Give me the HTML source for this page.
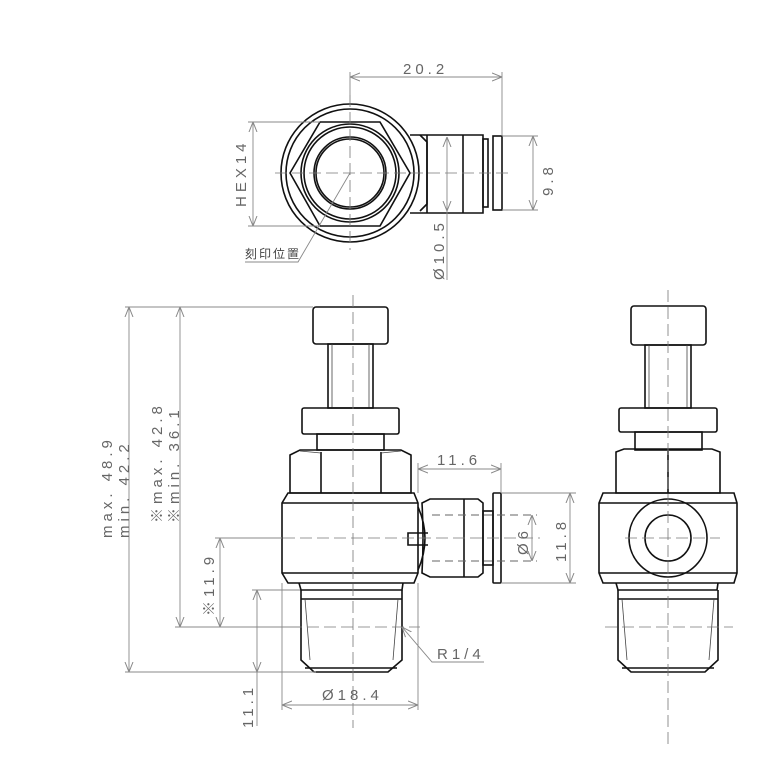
<!DOCTYPE html>
<html><head><meta charset="utf-8"><style>
html,body{margin:0;padding:0;background:#fff}
svg{display:block}
text{font-family:"Liberation Sans","Noto Sans CJK JP",sans-serif;fill:#666;font-size:15px;letter-spacing:4px}
.o{fill:none;stroke:#111;stroke-width:1.6}
.t{fill:none;stroke:#444;stroke-width:0.8}
.d{fill:none;stroke:#888;stroke-width:0.9}
.c{fill:none;stroke:#777;stroke-width:0.8;stroke-dasharray:12 5}
.h{fill:none;stroke:#666;stroke-width:0.9;stroke-dasharray:8 5}
</style></head><body>
<svg width="768" height="768" viewBox="0 0 768 768" xmlns="http://www.w3.org/2000/svg">
<defs>
<marker id="a" viewBox="0 0 10 10" refX="10" refY="5" markerWidth="10" markerHeight="10" orient="auto-start-reverse" markerUnits="userSpaceOnUse"><path d="M0,1 L10,5 L0,9" fill="none" stroke="#888" stroke-width="1"/></marker>
</defs>

<!-- ===== TOP VIEW ===== -->
<circle class="o" cx="350" cy="173" r="69"/>
<circle class="o" cx="350" cy="173" r="64"/>
<polygon class="o" points="290,173 320,122 380,122 410,173 380,226 320,226"/>
<circle class="o" cx="350" cy="173" r="49" stroke-width="2.4"/>
<circle class="o" cx="350" cy="173" r="46"/>
<circle class="o" cx="350" cy="173" r="36"/>
<circle class="o" cx="350" cy="173" r="34"/>
<path class="o" d="M410,135 H483 V213 H410"/>
<path class="o" d="M420,135 L427,142 V204 L420,211"/>
<line class="o" x1="427" y1="135" x2="427" y2="213"/>
<line class="o" x1="463" y1="135" x2="463" y2="213"/>
<rect class="o" x="483" y="139" width="5" height="68"/>
<rect class="o" x="493" y="136" width="9" height="74"/>
<line class="c" x1="275" y1="173" x2="510" y2="173"/>
<line class="c" x1="350" y1="95" x2="350" y2="250"/>
<!-- dims -->
<line class="d" x1="350" y1="72" x2="350" y2="100"/>
<line class="d" x1="502" y1="72" x2="502" y2="136"/>
<line class="d" x1="350" y1="77" x2="502" y2="77" marker-start="url(#a)" marker-end="url(#a)"/>
<text x="403" y="74">20.2</text>
<line class="d" x1="248" y1="122" x2="320" y2="122"/>
<line class="d" x1="248" y1="226" x2="320" y2="226"/>
<line class="d" x1="253" y1="122" x2="253" y2="226" marker-start="url(#a)" marker-end="url(#a)"/>
<text transform="translate(246,207) rotate(-90)">HEX14</text>
<line class="d" x1="502" y1="136" x2="538" y2="136"/>
<line class="d" x1="502" y1="210" x2="538" y2="210"/>
<line class="d" x1="533" y1="136" x2="533" y2="210" marker-start="url(#a)" marker-end="url(#a)"/>
<text transform="translate(553,196) rotate(-90)">9.8</text>
<line class="d" x1="447" y1="137" x2="447" y2="211" marker-start="url(#a)" marker-end="url(#a)"/>
<line class="d" x1="447" y1="211" x2="447" y2="280"/>
<text transform="translate(444,280) rotate(-90)">Ø10.5</text>
<path class="d" d="M245,262 H298 L350,173"/>
<text x="245" y="258" style="font-size:12px;letter-spacing:2px;fill:#444">刻印位置</text>

<!-- ===== SIDE VIEW ===== -->
<rect class="o" x="313" y="307" width="75" height="37" rx="3"/>
<rect class="o" x="328" y="344" width="45" height="64"/>
<line class="t" x1="332" y1="344" x2="332" y2="408"/><line class="t" x1="369" y1="344" x2="369" y2="408"/>
<rect class="o" x="302" y="408" width="97" height="26" rx="2"/>
<rect class="o" x="317" y="434" width="67" height="16"/>
<path class="o" d="M290,455 L300,450 H401 L411,455 V493 H290 Z"/>
<line class="o" x1="321" y1="452" x2="321" y2="493"/><line class="o" x1="381" y1="452" x2="381" y2="493"/>
<line class="t" x1="300" y1="451" x2="321" y2="453"/><line class="t" x1="381" y1="453" x2="401" y2="451"/>
<path class="o" d="M288,493 H414 L418,503 V573 L414,583 H288 L282,573 V503 Z"/>
<line class="o" x1="282" y1="503" x2="418" y2="503"/>
<line class="o" x1="282" y1="573" x2="418" y2="573"/>
<!-- fitting -->
<path class="o" d="M418,507 Q432,538 418,570"/>
<path class="o" d="M430,499 H478 L483,503 V573 L478,577 H430 L422,573 Q424,538 422,503 Z"/>
<line class="o" x1="464" y1="499" x2="464" y2="577"/>
<rect class="o" x="483" y="511" width="10" height="54"/>
<rect class="o" x="493" y="493" width="8" height="90" rx="1"/>
<path class="o" d="M428,533 H408 V545 H428"/>
<line class="h" x1="432" y1="515" x2="537" y2="515"/>
<line class="h" x1="432" y1="561" x2="537" y2="561"/>
<!-- thread -->
<path class="o" d="M299,583 L301,590 H402 L403,583"/>
<path class="o" d="M301,590 V660 L314,672 H388 L402,660 V590"/>
<line class="o" x1="301" y1="599" x2="402" y2="599"/>
<line class="t" x1="305" y1="599" x2="310" y2="660"/><line class="t" x1="398" y1="599" x2="393" y2="660"/>
<line class="o" x1="305" y1="668" x2="397" y2="668"/>
<!-- center lines -->
<line class="c" x1="353" y1="295" x2="353" y2="728"/>
<line class="c" x1="215" y1="538" x2="540" y2="538"/>
<line class="c" x1="290" y1="627" x2="420" y2="627"/>
<!-- dims -->
<line class="d" x1="125" y1="307" x2="313" y2="307"/>
<line class="d" x1="125" y1="672" x2="316" y2="672"/>
<line class="d" x1="129" y1="307" x2="129" y2="672" marker-start="url(#a)" marker-end="url(#a)"/>
<text transform="translate(112,538) rotate(-90)">max. 48.9</text>
<text transform="translate(129,538) rotate(-90)">min. 42.2</text>
<line class="d" x1="175" y1="627" x2="300" y2="627"/>
<line class="d" x1="180" y1="307" x2="180" y2="627" marker-start="url(#a)" marker-end="url(#a)"/>
<text transform="translate(162,523) rotate(-90)">※max. 42.8</text>
<text transform="translate(179,523) rotate(-90)">※min. 36.1</text>
<line class="d" x1="215" y1="538" x2="282" y2="538"/>
<line class="d" x1="220" y1="538" x2="220" y2="627" marker-start="url(#a)" marker-end="url(#a)"/>
<text transform="translate(214,616) rotate(-90)">※11.9</text>
<line class="d" x1="252" y1="590" x2="300" y2="590"/>
<line class="d" x1="257" y1="590" x2="257" y2="672" marker-start="url(#a)" marker-end="url(#a)"/>
<line class="d" x1="257" y1="672" x2="257" y2="726"/>
<text transform="translate(253,728) rotate(-90)">11.1</text>
<line class="d" x1="282" y1="583" x2="282" y2="710"/>
<line class="d" x1="418" y1="583" x2="418" y2="710"/>
<line class="d" x1="282" y1="705" x2="418" y2="705" marker-start="url(#a)" marker-end="url(#a)"/>
<text x="322" y="700">Ø18.4</text>
<path class="d" d="M484,662 H432 L402,627" marker-end="url(#a)"/>
<text x="437" y="659">R1/4</text>
<line class="d" x1="418" y1="463" x2="418" y2="493"/>
<line class="d" x1="501" y1="463" x2="501" y2="493"/>
<line class="d" x1="418" y1="469" x2="501" y2="469" marker-start="url(#a)" marker-end="url(#a)"/>
<text x="437" y="465">11.6</text>
<line class="d" x1="532" y1="515" x2="532" y2="561" marker-start="url(#a)" marker-end="url(#a)"/>
<text transform="translate(528,555) rotate(-90)">Ø6</text>
<line class="d" x1="501" y1="493" x2="576" y2="493"/>
<line class="d" x1="501" y1="583" x2="576" y2="583"/>
<line class="d" x1="570" y1="493" x2="570" y2="583" marker-start="url(#a)" marker-end="url(#a)"/>
<text transform="translate(566,562) rotate(-90)">11.8</text>

<!-- ===== FRONT VIEW ===== -->
<rect class="o" x="631" y="306" width="75" height="39" rx="3"/>
<rect class="o" x="645" y="345" width="46" height="63"/>
<line class="t" x1="649" y1="345" x2="649" y2="408"/><line class="t" x1="687" y1="345" x2="687" y2="408"/>
<rect class="o" x="619" y="408" width="98" height="24" rx="2"/>
<rect class="o" x="635" y="432" width="67" height="18"/>
<path class="o" d="M616,452 L624,449 H712 L720,452 V493 H616 Z"/>
<line class="o" x1="668" y1="451" x2="668" y2="493"/>
<path class="o" d="M603,493 H734 L737,503 V573 L734,583 H603 L599,573 V503 Z"/>
<line class="o" x1="599" y1="503" x2="737" y2="503"/>
<line class="o" x1="599" y1="573" x2="737" y2="573"/>
<circle class="o" cx="668" cy="538" r="39" fill="#fff"/>
<circle class="o" cx="668" cy="538" r="23"/>
<path class="o" d="M616,583 L618,590 H717 L718,583"/>
<path class="o" d="M618,590 V660 L631,672 H705 L718,660 V590"/>
<line class="o" x1="618" y1="599" x2="718" y2="599"/>
<line class="t" x1="622" y1="599" x2="627" y2="660"/><line class="t" x1="714" y1="599" x2="709" y2="660"/>
<line class="o" x1="622" y1="668" x2="714" y2="668"/>
<line class="c" x1="668" y1="290" x2="668" y2="745"/>
<line class="c" x1="625" y1="538" x2="720" y2="538"/>
<line class="c" x1="605" y1="627" x2="733" y2="627"/>
</svg>
</body></html>
